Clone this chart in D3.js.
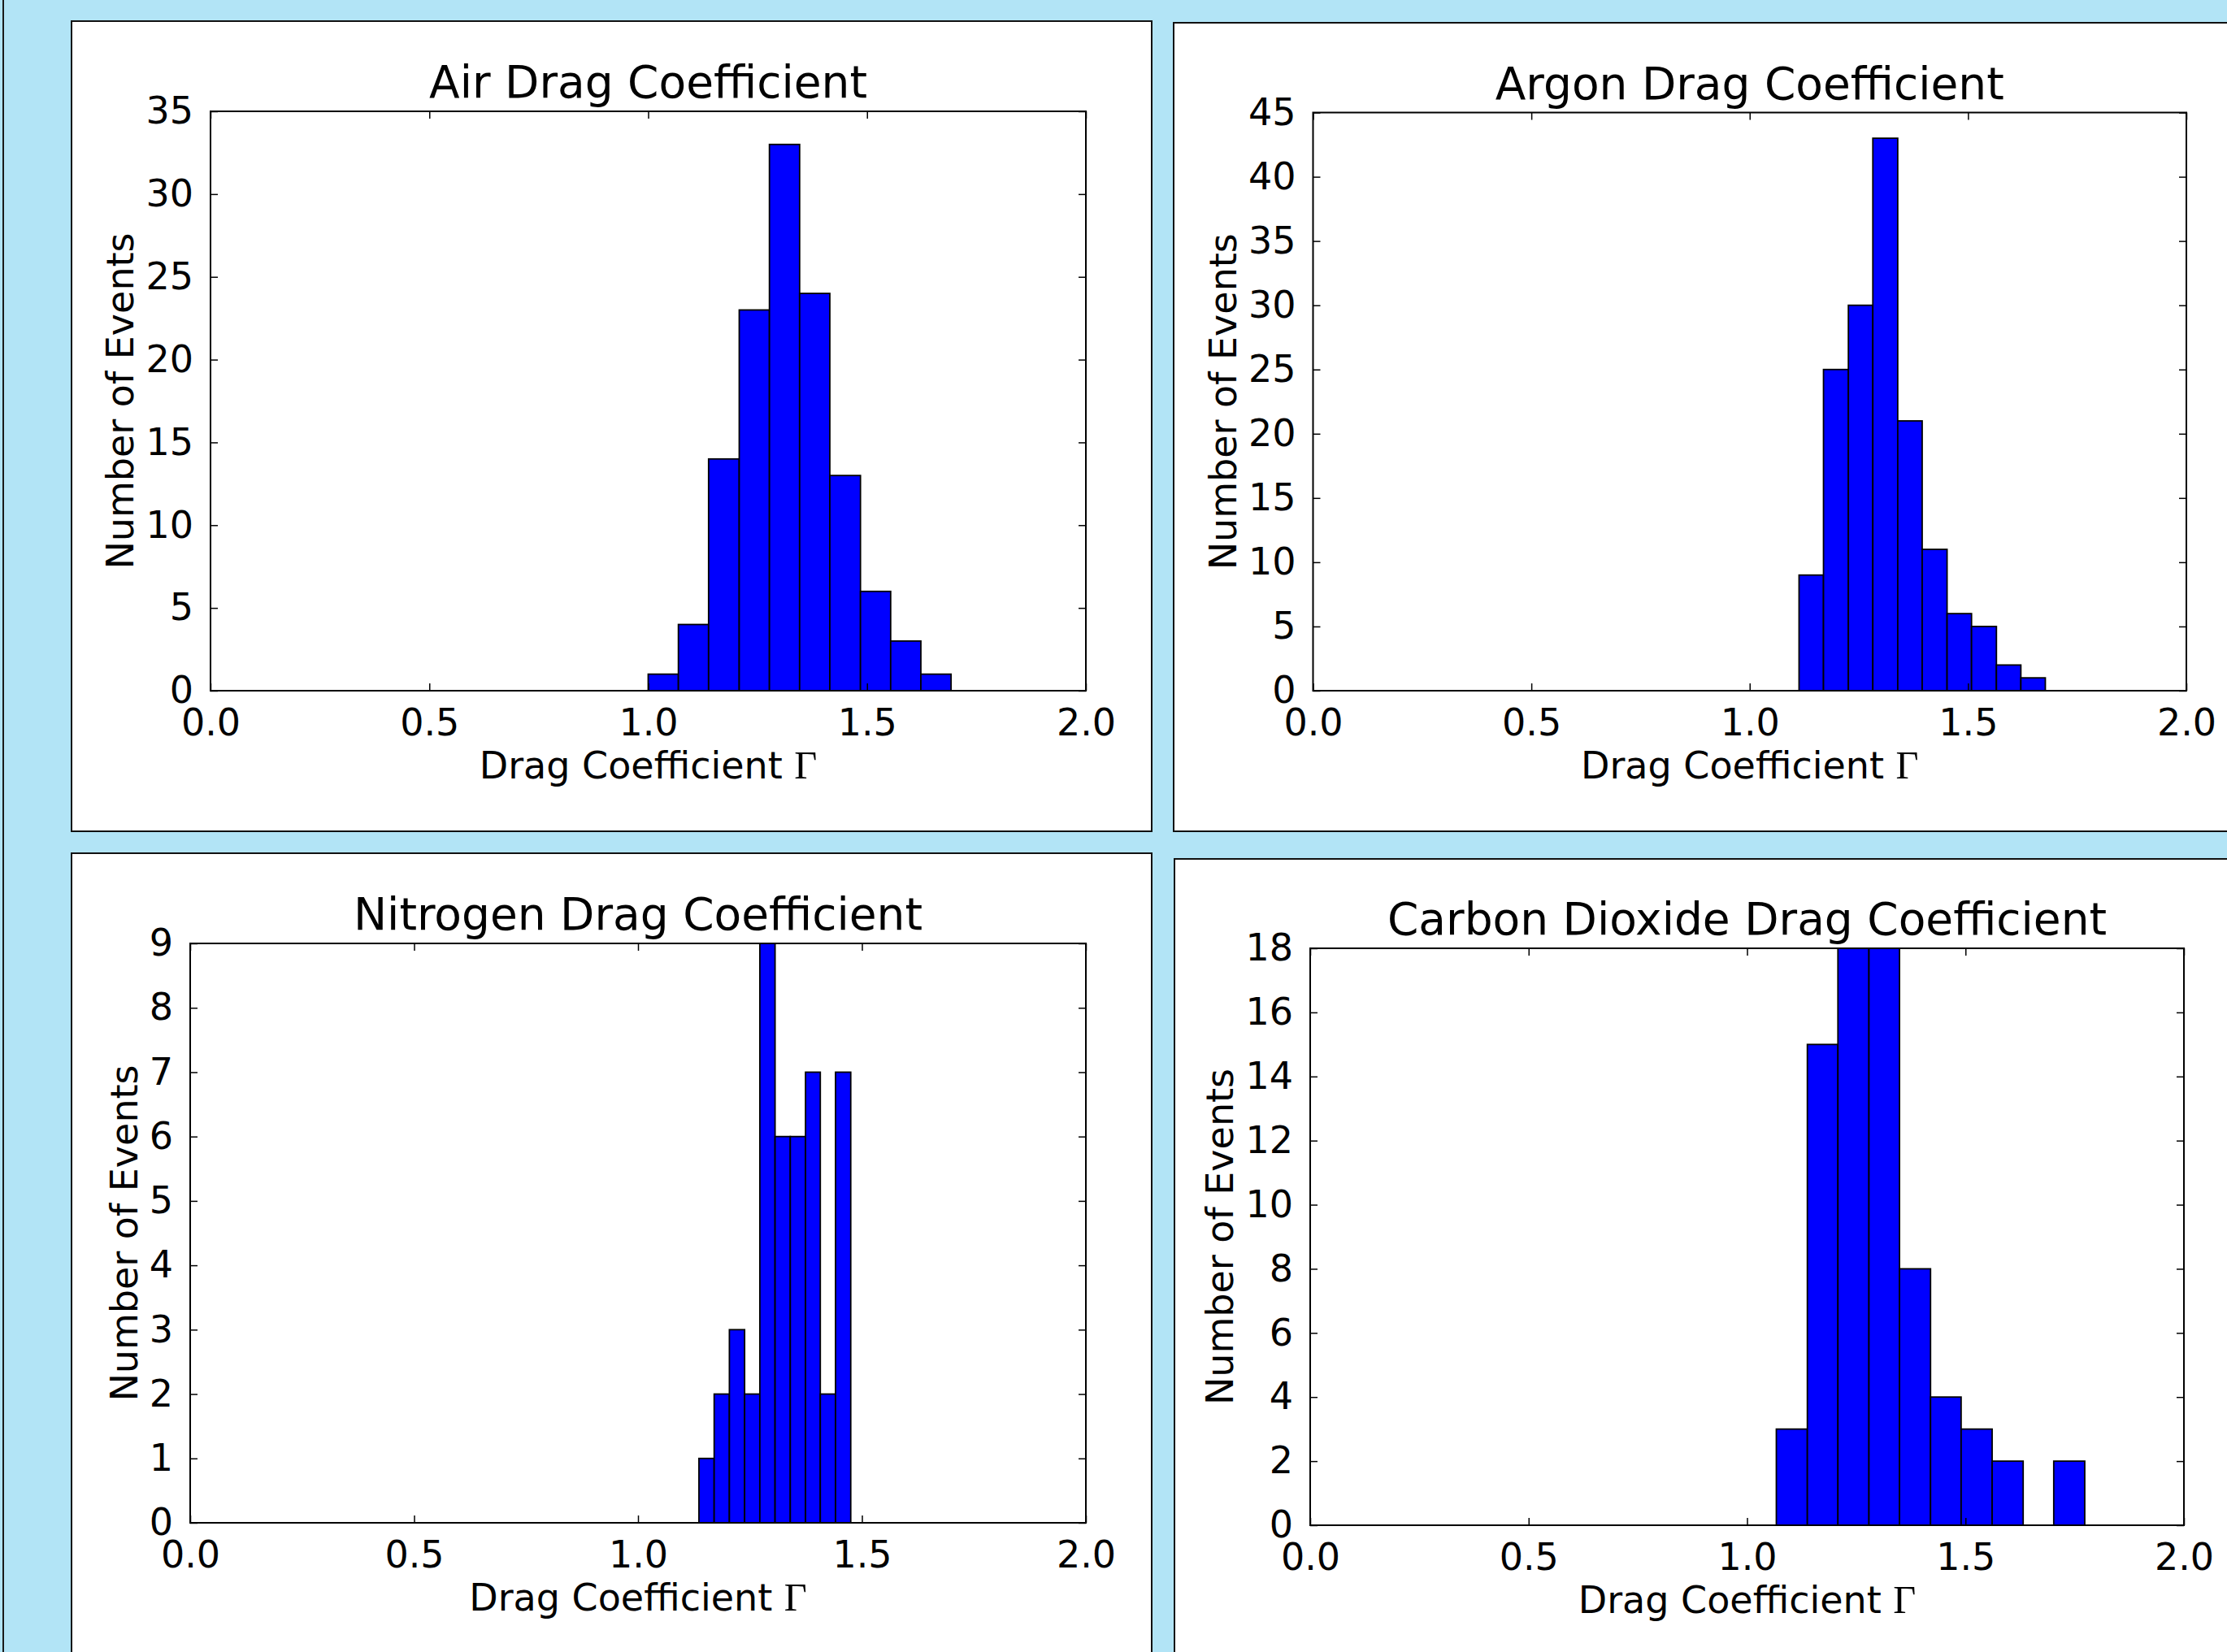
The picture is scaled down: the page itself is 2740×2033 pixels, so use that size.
<!DOCTYPE html>
<html>
<head>
<meta charset="utf-8">
<script src="https://cdn.jsdelivr.net/npm/d3@7"></script>
<style>
  html, body { margin: 0; padding: 0; background: #b2e4f6; }
  svg { display: block; }
  text { font-family: "DejaVu Sans", sans-serif; fill: #000; }
</style>
</head>
<body>
<script>
// ---------- DATA ----------
const titles = [
  "Air Drag Coefficient",
  "Argon Drag Coefficient",
  "Nitrogen Drag Coefficient",
  "Carbon Dioxide Drag Coefficient"
];
const xLabel = "Drag Coefficient ";
const xLabelSymbol = "Γ";
const yLabel = "Number of Events";

const xTicks = [0.0, 0.5, 1.0, 1.5, 2.0];

const airEdges = [1.000, 1.069, 1.138, 1.208, 1.277, 1.346, 1.415, 1.485, 1.554, 1.623, 1.692];
const airCounts = [1, 4, 14, 23, 33, 24, 13, 6, 3, 1];
const airYTicks = [0, 5, 10, 15, 20, 25, 30, 35];

const argonEdges = [1.113, 1.169, 1.226, 1.282, 1.339, 1.395, 1.452, 1.508, 1.565, 1.621, 1.677];
const argonCounts = [9, 25, 30, 43, 21, 11, 6, 5, 2, 1];
const argonYTicks = [0, 5, 10, 15, 20, 25, 30, 35, 40, 45];

const nitrogenEdges = [1.136, 1.170, 1.204, 1.238, 1.272, 1.306, 1.340, 1.374, 1.407, 1.441, 1.475];
const nitrogenCounts = [1, 2, 3, 2, 9, 6, 6, 7, 2, 7];
const nitrogenYTicks = [0, 1, 2, 3, 4, 5, 6, 7, 8, 9];

const co2Edges = [1.067, 1.138, 1.208, 1.279, 1.349, 1.420, 1.490, 1.561, 1.632, 1.702, 1.773];
const co2Counts = [3, 15, 18, 18, 8, 4, 3, 2, 0, 2];
const co2YTicks = [0, 2, 4, 6, 8, 10, 12, 14, 16, 18];

// ---------- LAYOUT ----------
const W = 2740, H = 2033;
const panels = [
  { title: titles[0], edges: airEdges, counts: airCounts, yTicks: airYTicks,
    box: [88, 26, 1417, 1023], plot: [259, 137, 1336, 850] },
  { title: titles[1], edges: argonEdges, counts: argonCounts, yTicks: argonYTicks,
    box: [1444, 28, 2760, 1023], plot: [1615.5, 138.5, 2690, 850] },
  { title: titles[2], edges: nitrogenEdges, counts: nitrogenCounts, yTicks: nitrogenYTicks,
    box: [88, 1050, 1417, 2060], plot: [234, 1161, 1336, 1874] },
  { title: titles[3], edges: co2Edges, counts: co2Counts, yTicks: co2YTicks,
    box: [1445, 1057, 2760, 2060], plot: [1612, 1167, 2687, 1877] }
];

const FS = 46, TITLE_FS = 55, TICK = 9;

const svg = d3.select("body").append("svg")
  .attr("width", W).attr("height", H)
  .attr("viewBox", `0 0 ${W} ${H}`);

svg.append("rect").attr("width", W).attr("height", H).attr("fill", "#b2e4f6");
// left dark border line
svg.append("line").attr("x1", 4).attr("x2", 4).attr("y1", 0).attr("y2", H)
  .attr("stroke", "#1a1a1a").attr("stroke-width", 2);

panels.forEach(p => {
  const [bx0, by0, bx1, by1] = p.box;
  svg.append("rect")
    .attr("x", bx0).attr("y", by0).attr("width", bx1 - bx0).attr("height", by1 - by0)
    .attr("fill", "#fff").attr("stroke", "#111").attr("stroke-width", 2);

  const [l, t, r, b] = p.plot;
  const x = d3.scaleLinear().domain([0, 2]).range([l, r]);
  const yMax = p.yTicks[p.yTicks.length - 1];
  const y = d3.scaleLinear().domain([0, yMax]).range([b, t]);

  const g = svg.append("g");

  // bars
  const bins = p.counts.map((c, i) => ({ x0: p.edges[i], x1: p.edges[i + 1], c }));
  g.selectAll("rect.bar").data(bins.filter(d => d.c > 0)).enter().append("rect")
    .attr("class", "bar")
    .attr("x", d => x(d.x0))
    .attr("width", d => x(d.x1) - x(d.x0))
    .attr("y", d => y(d.c))
    .attr("height", d => y(0) - y(d.c))
    .attr("fill", "#0000ff")
    .attr("stroke", "#000")
    .attr("stroke-width", 1.8);

  // axes
  const styleAxis = sel => {
    sel.select(".domain").remove();
    sel.selectAll(".tick line").attr("stroke", "#000").attr("stroke-width", 1.5);
    sel.selectAll(".tick text").attr("font-size", FS).attr("fill", "#000")
      .attr("font-family", "DejaVu Sans");
  };
  g.append("g").attr("transform", `translate(0,${b})`)
    .call(d3.axisBottom(x).tickValues(xTicks).tickFormat(d3.format(".1f"))
      .tickSizeInner(-TICK).tickSizeOuter(0).tickPadding(22))
    .call(styleAxis);
  g.append("g").attr("transform", `translate(0,${t})`)
    .call(d3.axisTop(x).tickValues(xTicks).tickFormat("")
      .tickSizeInner(-TICK).tickSizeOuter(0))
    .call(styleAxis);
  const yAx = g.append("g").attr("transform", `translate(${l},0)`)
    .call(d3.axisLeft(y).tickValues(p.yTicks).tickFormat(d3.format("d"))
      .tickSizeInner(-TICK).tickSizeOuter(0).tickPadding(21))
    .call(styleAxis);
  g.append("g").attr("transform", `translate(${r},0)`)
    .call(d3.axisRight(y).tickValues(p.yTicks).tickFormat("")
      .tickSizeInner(-TICK).tickSizeOuter(0))
    .call(styleAxis);

  // frame
  g.append("rect").attr("x", l).attr("y", t).attr("width", r - l).attr("height", b - t)
    .attr("fill", "none").attr("stroke", "#000").attr("stroke-width", 2);

  // title
  g.append("text").attr("x", (l + r) / 2).attr("y", t - 17)
    .attr("text-anchor", "middle").attr("font-size", TITLE_FS).text(p.title);

  // x label
  const xl = g.append("text").attr("x", (l + r) / 2).attr("y", b + 108)
    .attr("text-anchor", "middle").attr("font-size", FS);
  xl.append("tspan").text(xLabel);
  xl.append("tspan").attr("font-family", "Liberation Serif").attr("font-size", FS * 1.05).text(xLabelSymbol);

  // y label
  let minX = l;
  yAx.selectAll(".tick text").each(function () {
    const bb = this.getBBox();
    const m = this.parentNode.transform.baseVal.consolidate();
    const tx = (m ? m.matrix.e : 0) + l + bb.x;
    if (tx < minX) minX = tx;
  });
  const yl = minX - 15;
  g.append("text").attr("transform", `translate(${yl},${(t + b) / 2}) rotate(-90)`)
    .attr("text-anchor", "middle").attr("font-size", FS).text(yLabel);
});
</script>
</body>
</html>
